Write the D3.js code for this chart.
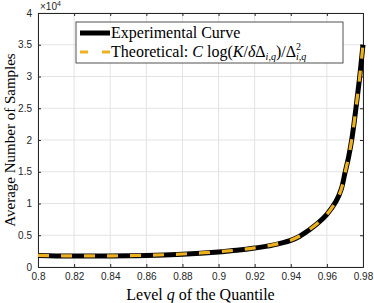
<!DOCTYPE html>
<html>
<head>
<meta charset="utf-8">
<script src="https://cdn.jsdelivr.net/npm/d3@7"></script>
<style>
  body { margin: 0; background: #fff; }
  .tick text { font-family: "Liberation Sans", Arial, sans-serif; font-size: 10px; fill: #262626; }
  .serif { font-family: "Liberation Serif", "DejaVu Serif", serif; fill: #000; }
</style>
</head>
<body>
<div id="main"></div>
<script>
// level q of the quantile
var qLevels = [0.80, 0.81, 0.82, 0.83, 0.84, 0.85, 0.86, 0.87, 0.88, 0.89, 0.90, 0.91, 0.92,
               0.93, 0.94, 0.945, 0.95, 0.955, 0.96, 0.965, 0.968, 0.97, 0.972, 0.974, 0.976, 0.978, 0.98];
// average number of samples
var experimental = [1800, 1750, 1720, 1720, 1730, 1760, 1820, 1900, 2020, 2180, 2380, 2630, 2980,
                    3450, 4200, 4850, 5800, 6900, 8300, 10300, 12300, 14800, 17300, 20500, 24800, 29500, 35000];
var theoretical = [1830, 1780, 1750, 1750, 1760, 1790, 1850, 1930, 2050, 2210, 2410, 2660, 3010,
                   3480, 4230, 4880, 5820, 6920, 8300, 10300, 12300, 14800, 17300, 20500, 24800, 29500, 35000];
var xTicks = [0.8, 0.82, 0.84, 0.86, 0.88, 0.9, 0.92, 0.94, 0.96, 0.98];
var yTicks = [0, 5000, 10000, 15000, 20000, 25000, 30000, 35000, 40000];

var margin = {top: 13, right: 11, bottom: 36, left: 38},
    width = 374 - margin.left - margin.right,
    height = 303 - margin.top - margin.bottom;

var svg = d3.select("#main").append("svg")
    .attr("width", 374).attr("height", 303)
  .append("g")
    .attr("transform", "translate(" + margin.left + "," + margin.top + ")");

var xScale = d3.scaleLinear().domain([0.8, 0.98]).range([0, width]);
var yScale = d3.scaleLinear().domain([0, 40000]).range([height, 0]);

// grid
svg.append("g").selectAll("line").data(xTicks).enter().append("line")
    .attr("x1", function(d) { return xScale(d); }).attr("x2", function(d) { return xScale(d); })
    .attr("y1", 0).attr("y2", height)
    .style("stroke", "#e3e3e3").style("stroke-width", 1);
svg.append("g").selectAll("line").data(yTicks).enter().append("line")
    .attr("y1", function(d) { return yScale(d); }).attr("y2", function(d) { return yScale(d); })
    .attr("x1", 0).attr("x2", width)
    .style("stroke", "#e3e3e3").style("stroke-width", 1);

// axes
function darken(g) {
  g.select(".domain").style("stroke", "#262626");
  g.selectAll(".tick line").style("stroke", "#262626");
}
var xAxis = d3.axisBottom(xScale).tickValues(xTicks).tickSize(-3).tickPadding(6)
    .tickFormat(function(d) { return +d.toFixed(2); });
var yAxis = d3.axisLeft(yScale).tickValues(yTicks).tickSize(-3).tickPadding(6)
    .tickFormat(function(d) { return d / 10000; });

svg.append("g").attr("transform", "translate(0," + height + ")").call(xAxis).call(darken);
svg.append("g").call(yAxis).call(darken);
svg.append("g").call(d3.axisTop(xScale).tickValues(xTicks).tickSize(-3).tickFormat("")).call(darken);
svg.append("g").attr("transform", "translate(" + width + ",0)")
    .call(d3.axisRight(yScale).tickValues(yTicks).tickSize(-3).tickFormat("")).call(darken);

// x10^4 exponent
var expo = svg.append("text").attr("x", 2).attr("y", -3)
    .style("font-family", "Liberation Sans, Arial, sans-serif").style("font-size", "10px").style("fill", "#262626");
expo.append("tspan").text("\u00d710");
expo.append("tspan").attr("dy", -4).style("font-size", "7px").text("4");

// curves
var line = d3.line().curve(d3.curveCatmullRom);
var expPts = qLevels.map(function(q, i) { return [xScale(q), yScale(experimental[i])]; });
var thPts = qLevels.map(function(q, i) { return [xScale(q), yScale(theoretical[i])]; });

svg.append("path").attr("d", line(expPts))
    .style("fill", "none").style("stroke", "#000").style("stroke-width", 5);
svg.append("path").attr("d", line(thPts))
    .style("fill", "none").style("stroke", "#EDB120").style("stroke-width", 3.2)
    .style("stroke-dasharray", "11,12");

// axis labels
svg.append("text").attr("class", "serif")
    .attr("x", width / 2).attr("y", height + 33)
    .style("text-anchor", "middle").style("font-size", "16px")
    .html('Level <tspan font-style="italic">q</tspan> of the Quantile');
svg.append("text").attr("class", "serif")
    .attr("transform", "translate(-23," + height / 2 + ") rotate(-90)")
    .style("text-anchor", "middle").style("font-size", "15px")
    .text("Average Number of Samples");

// legend
var legend = svg.append("g").attr("transform", "translate(" + (76 - margin.left) + "," + (22 - margin.top) + ")");
legend.append("rect").attr("width", 267).attr("height", 41)
    .style("fill", "#fff").style("stroke", "#262626").style("stroke-width", 0.8);
legend.append("line").attr("x1", 4).attr("x2", 34).attr("y1", 11).attr("y2", 11)
    .style("stroke", "#000").style("stroke-width", 5);
legend.append("line").attr("x1", 4).attr("x2", 34).attr("y1", 30).attr("y2", 30)
    .style("stroke", "#EDB120").style("stroke-width", 3.2).style("stroke-dasharray", "8,14");
legend.append("text").attr("class", "serif").attr("x", 35).attr("y", 16)
    .style("font-size", "16px").text("Experimental Curve");
var th = legend.append("text").attr("class", "serif").attr("x", 35).attr("y", 35)
    .style("font-size", "16px");
th.append("tspan").text("Theoretical: ");
th.append("tspan").style("font-style", "italic").text("C");
th.append("tspan").text(" log(");
th.append("tspan").style("font-style", "italic").text("K");
th.append("tspan").text("/");
th.append("tspan").style("font-style", "italic").text("\u03b4");
th.append("tspan").text("\u0394");
th.append("tspan").attr("dy", 3).style("font-size", "10px").style("font-style", "italic").text("i,q");
th.append("tspan").attr("dy", -3).text(")/\u0394");
th.append("tspan").attr("dy", -7).style("font-size", "10px").text("2");
th.append("tspan").attr("dy", 10).attr("dx", -5).style("font-size", "10px").style("font-style", "italic").text("i,q");
</script>
</body>
</html>
